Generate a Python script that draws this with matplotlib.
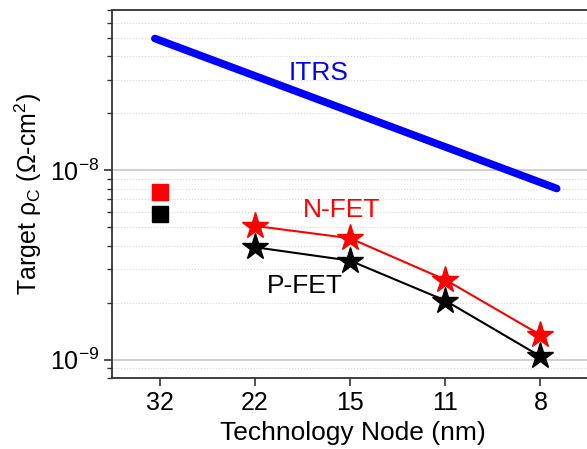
import matplotlib
matplotlib.use("Agg")
import matplotlib.pyplot as plt
from matplotlib.ticker import LogLocator, NullFormatter, FixedLocator

plt.rcParams['font.family'] = ['Liberation Sans', 'DejaVu Sans']
plt.rcParams['mathtext.fontset'] = 'custom'
plt.rcParams['mathtext.rm'] = 'Liberation Sans'
plt.rcParams['mathtext.it'] = 'Liberation Sans:italic'

# datos
nodos = ["32", "22", "15", "11", "8"]
pos = [0, 1, 2, 3, 4]

itrs_x = [-0.05, 4.17]
itrs_y = [4.95e-8, 8.0e-9]

nfet = [5.08e-9, 4.37e-9, 2.64e-9, 1.35e-9]
pfet = [3.92e-9, 3.33e-9, 2.05e-9, 1.04e-9]
nfet_32 = 7.7e-9
pfet_32 = 5.85e-9

fig = plt.figure(figsize=(5.87, 4.49), dpi=100)
ax = fig.add_axes([112/587, 71/449, 1 - 112/587 + 0.01, 368/449])

ax.set_yscale('log')
ax.set_ylim(8.0e-10, 7.0e-8)
ax.set_xlim(-0.5, 4.55)

# rejilla
ax.yaxis.set_major_locator(FixedLocator([1e-9, 1e-8]))
ax.yaxis.set_minor_locator(LogLocator(base=10, subs=range(2, 10)))
ax.yaxis.set_minor_formatter(NullFormatter())
ax.grid(True, which='major', axis='y', color='#c8c8c8', lw=1.2, ls='-')
ax.grid(True, which='minor', axis='y', color='#d8d8d8', lw=0.8, ls=':')
ax.set_axisbelow(True)

ax.plot(itrs_x, itrs_y, color='#0000ff', lw=5.5, solid_capstyle='round')
ax.plot(pos[1:], nfet, color='red', lw=1.5, marker='*', ms=20,
        markerfacecolor='red', markeredgecolor='red')
ax.plot(pos[1:], pfet, color='black', lw=1.5, marker='*', ms=20,
        markerfacecolor='black', markeredgecolor='black')
ax.plot([0], [nfet_32], 's', color='red', ms=11)
ax.plot([0], [pfet_32], 's', color='black', ms=11)

ax.text(1.36, 2.98e-8, 'ITRS', color='#0000ff', fontsize=19, va='baseline', ha='left')
ax.text(1.50, 5.66e-9, 'N-FET', color='red', fontsize=19, va='baseline', ha='left')
ax.text(1.13, 2.25e-9, 'P-FET', color='black', fontsize=19, va='baseline', ha='left')

ax.set_xticks(pos)
ax.set_xticklabels(nodos)
ax.set_yticklabels([r'$\mathregular{10^{-9}}$', r'$\mathregular{10^{-8}}$'])
ax.tick_params(axis='both', which='major', direction='out', length=6, width=1.2,
               labelsize=18, color='#333333')
ax.tick_params(axis='y', which='minor', direction='out', length=3.5, width=1.0,
               color='#333333')
ax.tick_params(axis='x', which='minor', bottom=False)

for s in ['left', 'bottom', 'top']:
    ax.spines[s].set_linewidth(1.3)
    ax.spines[s].set_color('#333333')
ax.spines['right'].set_visible(False)

ax.set_xlabel('Technology Node (nm)', fontsize=19, labelpad=4)
ax.set_ylabel(r'Target ρ$_\mathregular{C}$ (Ω-cm$^\mathregular{2}$)', fontsize=18, labelpad=4)

fig.savefig('out.png', dpi=100)
